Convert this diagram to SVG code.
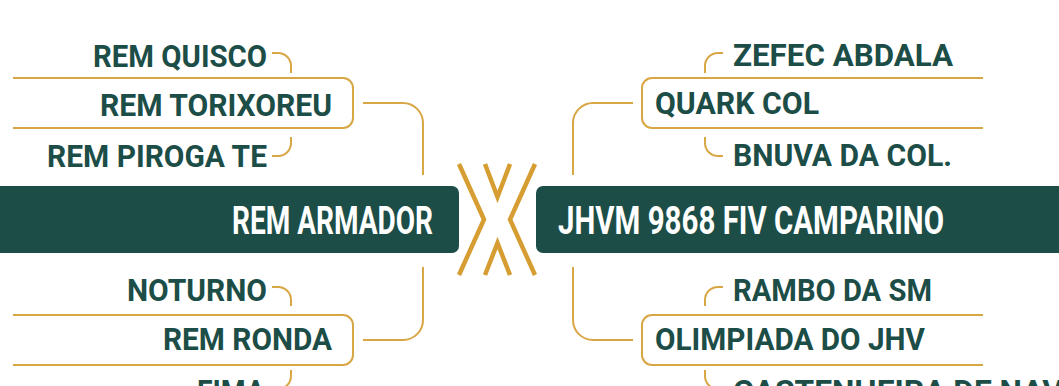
<svg xmlns="http://www.w3.org/2000/svg" width="1059" height="386" viewBox="0 0 1059 386">
<style>
.bar{fill:#1C4D47}
.main{font-family:Roboto,"Liberation Sans",sans-serif;font-weight:700;font-size:38px;fill:#FFFFFF}
.sub{font-family:Roboto,"Liberation Sans",sans-serif;font-weight:700;font-size:32px;fill:#1C4D47}
.ln{fill:none;stroke:#D9A646;stroke-width:2}
.x{fill:none;stroke:#D69E32;stroke-width:4.5}
</style>
<rect width="1059" height="386" fill="#FFFFFF"/>
<g id="connectors">
<path class="ln" d="M272,53 H278 A13,13 0 0 1 291,66 V73"/>
<path class="ln" d="M291,137 V143 A13,13 0 0 1 278,156 H272"/>
<path class="ln" d="M363,103 H403 A20,20 0 0 1 423,123 V175"/>
<path class="ln" d="M272,287 H278 A13,13 0 0 1 291,300 V306"/>
<path class="ln" d="M291,370 V376 A13,13 0 0 1 278,389 H272"/>
<path class="ln" d="M423,267 V320 A20,20 0 0 1 403,340 H363"/>
<path class="ln" d="M705,73 V66 A13,13 0 0 1 718,53 H723"/>
<path class="ln" d="M705,137 V143 A13,13 0 0 0 718,156 H723"/>
<path class="ln" d="M633,103 H593 A20,20 0 0 0 573,123 V175"/>
<path class="ln" d="M705,306 V300 A13,13 0 0 1 718,287 H723"/>
<path class="ln" d="M705,370 V376 A13,13 0 0 0 718,389 H723"/>
<path class="ln" d="M573,267 V320 A20,20 0 0 0 593,340 H633"/>
</g>
<g id="versus">
<path class="x" d="M459,164 L484,219.5 L459,275"/>
<path class="x" d="M535,164 L510,219.5 L535,275"/>
<path class="x" d="M485,164 L497.5,197 L510,164"/>
<path class="x" d="M485,275 L497.5,243 L510,275"/>
</g>
<g id="rem-armador">
<rect class="bar" x="-10" y="186" width="469" height="67" rx="7"/>
<text class="main" x="232" y="234" textLength="201" lengthAdjust="spacingAndGlyphs">REM ARMADOR</text>
</g>
<g id="jhvm">
<rect class="bar" x="536" y="186" width="540" height="67" rx="7"/>
<text class="main" x="558" y="234" textLength="386" lengthAdjust="spacingAndGlyphs">JHVM 9868 FIV CAMPARINO</text>
</g>
<g id="rem-quisco"><text class="sub" x="93" y="67" textLength="174" lengthAdjust="spacingAndGlyphs">REM QUISCO</text></g>
<g id="rem-torixoreu">
<path class="ln" d="M13,78 H343 A10,10 0 0 1 353,88 V118 A10,10 0 0 1 343,128 H13"/>
<text class="sub" x="100" y="116" textLength="232" lengthAdjust="spacingAndGlyphs">REM TORIXOREU</text>
</g>
<g id="rem-piroga"><text class="sub" x="47" y="167" textLength="220" lengthAdjust="spacingAndGlyphs">REM PIROGA TE</text></g>
<g id="noturno"><text class="sub" x="127" y="301" textLength="140" lengthAdjust="spacingAndGlyphs">NOTURNO</text></g>
<g id="rem-ronda">
<path class="ln" d="M13,315 H343 A10,10 0 0 1 353,325 V355 A10,10 0 0 1 343,365 H13"/>
<text class="sub" x="163" y="350" textLength="169" lengthAdjust="spacingAndGlyphs">REM RONDA</text>
</g>
<g id="fima"><text class="sub" x="197" y="402" textLength="68" lengthAdjust="spacingAndGlyphs">FIMA</text></g>
<g id="zefec"><text class="sub" x="733" y="66" textLength="220" lengthAdjust="spacingAndGlyphs">ZEFEC ABDALA</text></g>
<g id="quark">
<path class="ln" d="M983,78 H652 A10,10 0 0 0 642,88 V118 A10,10 0 0 0 652,128 H983"/>
<text class="sub" x="655" y="114" textLength="164" lengthAdjust="spacingAndGlyphs">QUARK COL</text>
</g>
<g id="bnuva"><text class="sub" x="733" y="166" textLength="219" lengthAdjust="spacingAndGlyphs">BNUVA DA COL.</text></g>
<g id="rambo"><text class="sub" x="733" y="301" textLength="199" lengthAdjust="spacingAndGlyphs">RAMBO DA SM</text></g>
<g id="olimpiada">
<path class="ln" d="M983,315 H652 A10,10 0 0 0 642,325 V355 A10,10 0 0 0 652,365 H983"/>
<text class="sub" x="655" y="350" textLength="270" lengthAdjust="spacingAndGlyphs">OLIMPIADA DO JHV</text>
</g>
<g id="castenheira"><text class="sub" x="733" y="402" textLength="330" lengthAdjust="spacingAndGlyphs">CASTENHEIRA DE NAV</text></g>
</svg>
